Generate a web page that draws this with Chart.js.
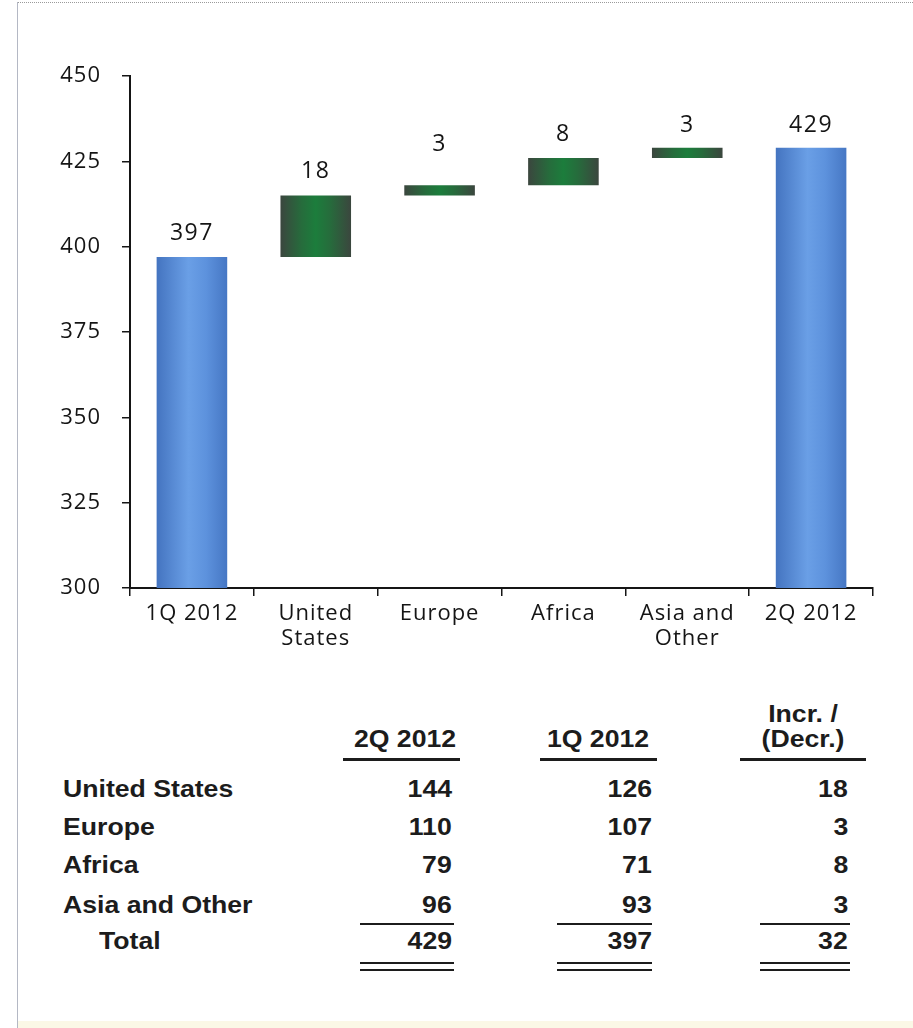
<!DOCTYPE html>
<html>
<head>
<meta charset="utf-8">
<script src="https://cdn.jsdelivr.net/npm/chart.js@4.4.1/dist/chart.umd.min.js"></script>
<style>
  html, body { margin: 0; padding: 0; background: #fff; }
  #page { position: relative; width: 913px; height: 1028px; overflow: hidden; }
  #frameTop { position: absolute; left: 17px; right: 0; top: 2px; border-top: 1px dotted #9a9a9a; }
  #frameLeft { position: absolute; left: 17px; top: 2px; bottom: 0; border-left: 1px solid #b4b8c4; }
  #frameBottom { position: absolute; left: 18px; right: 0; bottom: 0; height: 7px; background: #fbf8e6; }
  #chartBox { position: absolute; left: 0; top: 0; width: 913px; height: 680px; }
  .t { position: absolute; font-family: "Liberation Sans", Arial, sans-serif; font-weight: bold;
       font-size: 24px; color: #1c1c1c; white-space: nowrap; line-height: normal; }
  .rule { position: absolute; background: #1c1c1c; }
</style>
</head>
<body>
<div id="page">
  <div id="frameTop"></div>
  <div id="frameLeft"></div>
  <div id="frameBottom"></div>
  <div id="chartBox"><canvas id="waterfall"></canvas></div>
  <div id="table"></div>
</div>
<script>
// Dữ liệu biểu đồ
const categories = [['1Q 2012'], ['United', 'States'], ['Europe'], ['Africa'], ['Asia and', 'Other'], ['2Q 2012']];
const barFrom = [300, 397, 415, 418, 426, 300];
const barTo = [397, 415, 418, 426, 429, 429];
const barText = ['397', '18', '3', '8', '3', '429'];
const barKind = ['total', 'step', 'step', 'step', 'step', 'total'];
const yTicks = [300, 325, 350, 375, 400, 425, 450];

// Dữ liệu bảng
const tableHeads = [['2Q 2012'], ['1Q 2012'], ['Incr. /', '(Decr.)']];
const regions = ['United States', 'Europe', 'Africa', 'Asia and Other'];
const q2Values = [144, 110, 79, 96];
const q1Values = [126, 107, 71, 93];
const changeValues = [18, 3, 8, 3];
const totalRow = ['Total', 429, 397, 32];

// kiểu dáng (không phải dữ liệu)
const labelGap = [23, 24, 41, 23, 22, 22];
const TEXT = '#151515';
const BAR_PCT = 0.57;

function barFill(c) {
    const chart = c.chart;
    const xs = chart.scales.x;
    const total = barKind[c.dataIndex] === 'total';
    if (!xs || !xs.width) return total ? '#5a8edb' : '#236b3b';
    const cx = xs.getPixelForValue(c.dataIndex);
    const w = xs.width / categories.length * BAR_PCT;
    const g = chart.ctx.createLinearGradient(cx - w / 2, 0, cx + w / 2, 0);
    if (total) {
        g.addColorStop(0, '#4474c0');
        g.addColorStop(0.45, '#6a9fe6');
        g.addColorStop(0.7, '#5d92dd');
        g.addColorStop(1, '#4677c4');
    } else {
        g.addColorStop(0, '#3b463e');
        g.addColorStop(0.3, '#266c3c');
        g.addColorStop(0.5, '#1c7d3c');
        g.addColorStop(0.7, '#266c3c');
        g.addColorStop(1, '#3b463e');
    }
    return g;
}

// giãn chữ một chút cho giống bản gốc
const spacing = {
    id: 'spacing',
    beforeInit(chart) { chart.ctx.letterSpacing = '1px'; },
    beforeLayout(chart) { chart.ctx.letterSpacing = '1px'; },
    beforeDraw(chart) { chart.ctx.letterSpacing = '1px'; }
};

// nhãn giá trị trên cột
const valueLabels = {
    id: 'valueLabels',
    afterDatasetsDraw(chart) {
        const ctx = chart.ctx;
        const meta = chart.getDatasetMeta(0);
        ctx.save();
        ctx.font = '23px "Open Sans"';
        ctx.letterSpacing = '1.5px';
        ctx.fillStyle = TEXT;
        ctx.textAlign = 'center';
        ctx.textBaseline = 'middle';
        meta.data.forEach((el, i) => {
            ctx.fillText(barText[i], el.x, el.y - labelGap[i]);
        });
        ctx.restore();
    }
};

const axisFont = { family: 'Open Sans', size: 22, lineHeight: 1.15 };

new Chart(document.getElementById('waterfall'), {
    type: 'bar',
    data: {
        labels: categories,
        datasets: [{
            data: barFrom.map((v, i) => [v, barTo[i]]),
            backgroundColor: barFill,
            borderWidth: 0,
            barPercentage: BAR_PCT,
            categoryPercentage: 1
        }]
    },
    options: {
        responsive: true,
        maintainAspectRatio: false,
        animation: false,
        layout: { padding: { top: 76, right: 40, left: 0, bottom: 0 } },
        plugins: { legend: { display: false }, tooltip: { enabled: false } },
        scales: {
            x: {
                offset: true,
                grid: { offset: true, drawOnChartArea: false, drawTicks: true, tickLength: 8, color: TEXT, lineWidth: 1.5 },
                border: { color: TEXT, width: 2 },
                ticks: { color: TEXT, font: axisFont, padding: 5, maxRotation: 0, autoSkip: false },
                afterFit: s => { s.height = 92; }
            },
            y: {
                min: 300,
                max: 450,
                afterBuildTicks: s => { s.ticks = yTicks.map(v => ({ value: v })); },
                grid: { drawOnChartArea: false, drawTicks: true, tickLength: 8, color: TEXT, lineWidth: 1.5 },
                border: { color: TEXT, width: 2 },
                ticks: { color: TEXT, font: axisFont, padding: 21 },
                afterFit: s => { s.width = 130; }
            }
        }
    },
    plugins: [spacing, valueLabels]
});

// Bảng số liệu bên dưới
const table = document.getElementById('table');
const colRight = [452, 652, 848];
const colCenter = [405, 598, 803];
const headRule = [[343, 460], [540, 657], [740, 866]];
const sumRule = [[360, 454], [557, 652], [760, 850]];
const rowBase = [797, 835, 873, 913, 949];
const SX = 1.11;

function addText(txt, x, baseline, align) {
    const d = document.createElement('div');
    d.className = 't';
    d.innerText = txt;
    d.style.top = (baseline - 22) + 'px';
    if (align === 'left') {
        d.style.left = x + 'px';
        d.style.transformOrigin = 'left';
        d.style.transform = `scaleX(${SX})`;
    } else if (align === 'right') {
        d.style.right = (913 - x) + 'px';
        d.style.transformOrigin = 'right';
        d.style.transform = `scaleX(${SX})`;
    } else {
        d.style.left = x + 'px';
        d.style.transform = `translateX(-50%) scaleX(${SX})`;
    }
    table.appendChild(d);
}

function addRule(x1, x2, y, h) {
    const r = document.createElement('div');
    r.className = 'rule';
    r.style.left = x1 + 'px';
    r.style.width = (x2 - x1) + 'px';
    r.style.top = y + 'px';
    r.style.height = h + 'px';
    table.appendChild(r);
}

tableHeads.forEach((lines, c) => {
    lines.forEach((ln, k) => {
        addText(ln, colCenter[c], 747 - (lines.length - 1 - k) * 25, 'center');
    });
    addRule(headRule[c][0], headRule[c][1], 758, 3);
});

const cols = [q2Values, q1Values, changeValues];
regions.forEach((name, r) => {
    addText(name, 63, rowBase[r], 'left');
    cols.forEach((vals, c) => addText(String(vals[r]), colRight[c], rowBase[r], 'right'));
});

addText(totalRow[0], 99, rowBase[4], 'left');
for (let c = 0; c < 3; c++) {
    addText(String(totalRow[c + 1]), colRight[c], rowBase[4], 'right');
    addRule(sumRule[c][0], sumRule[c][1], 923, 2);
    addRule(sumRule[c][0], sumRule[c][1], 962, 2);
    addRule(sumRule[c][0], sumRule[c][1], 969, 2);
}
</script>
</body>
</html>
